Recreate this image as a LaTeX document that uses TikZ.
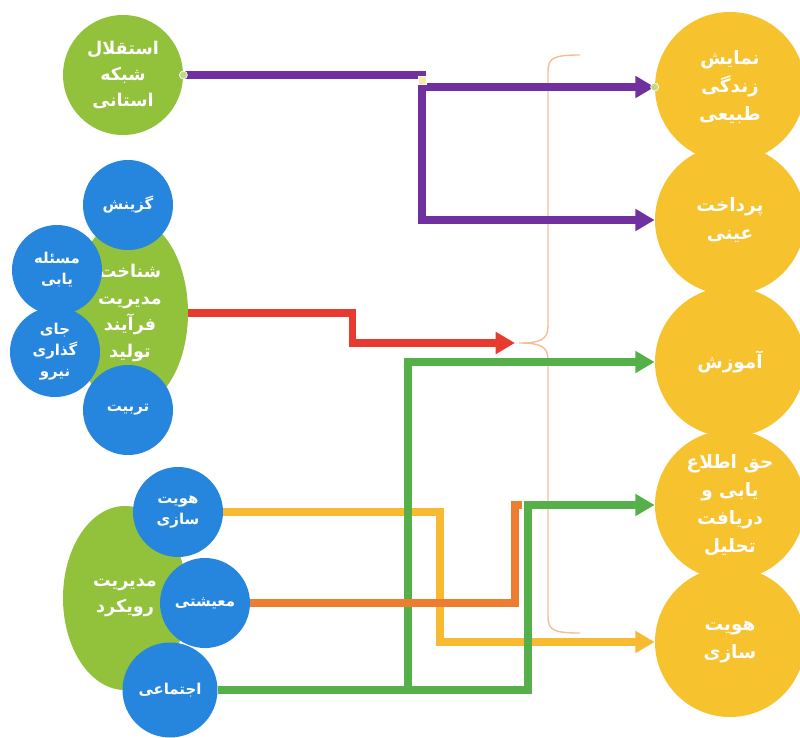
\documentclass[tikz,border=0pt]{standalone}
\usepackage{fontspec}
\newfontfamily\arabicfont[Script=Arabic]{DejaVu Sans}
\TeXXeTstate=1
\usetikzlibrary{arrows.meta,shapes.geometric}
\newcommand{\rtxt}[1]{\beginR #1\endR}
\definecolor{leafgreen}{RGB}{146,193,59}
\definecolor{bubbleblue}{RGB}{38,134,222}
\definecolor{sunyellow}{RGB}{246,194,46}
\definecolor{linepurple}{RGB}{112,48,160}
\definecolor{linered}{RGB}{233,58,48}
\definecolor{linegreen}{RGB}{86,176,74}
\definecolor{lineorange}{RGB}{237,125,49}
\definecolor{lineyellow}{RGB}{248,186,48}
\definecolor{braceorange}{RGB}{246,190,150}
\tikzset{
  treenode/.style = {align=center, inner sep=0pt, text=white},
  % circles and blobs
  crc_Y/.style = {treenode, circle, fill=sunyellow, minimum size=30mm,
                  font=\arabicfont\bfseries\fontsize{10.5pt}{16pt}\selectfont},
  crc_G/.style = {treenode, circle, fill=leafgreen, minimum size=24mm,
                  font=\arabicfont\bfseries\fontsize{10pt}{15pt}\selectfont},
  crc_B/.style = {treenode, circle, fill=bubbleblue, minimum size=18mm,
                  font=\arabicfont\bfseries\fontsize{8.5pt}{12pt}\selectfont},
  ell_G/.style = {treenode, ellipse, fill=leafgreen,
                  font=\arabicfont\bfseries\fontsize{10pt}{15pt}\selectfont},
  % small handles
  hnd_G/.style = {circle, inner sep=0pt, minimum size=1.6mm, fill=leafgreen!60, draw=white, thin},
  hnd_Y/.style = {rectangle, inner sep=0pt, minimum size=1.6mm, fill=sunyellow!40, draw=white, thin},
  % connectors
  ln/.style = {line width=4pt},
  ln_P/.style = {ln, draw=linepurple},
  ln_R/.style = {ln, draw=linered},
  ln_G/.style = {ln, draw=linegreen},
  ln_O/.style = {ln, draw=lineorange},
  ln_Y/.style = {ln, draw=lineyellow}
}
\begin{document}
\begin{tikzpicture}[x=0.2mm, y=-0.2mm,
    ->, >={Triangle[length=11pt,width=12pt]}
    ]
    \useasboundingbox (0,0) rectangle (800,738);
    % Right column - outcome nodes:
    \node [crc_Y] (y1) at (730,87)  {\rtxt{نمایش}\\\rtxt{زندگی}\\\rtxt{طبیعی}};
    \node [crc_Y] (y2) at (730,220) {\rtxt{پرداخت}\\\rtxt{عینی}};
    \node [crc_Y] (y3) at (730,362) {\rtxt{آموزش}};
    \node [crc_Y] (y4) at (730,505) {\rtxt{حق اطلاع}\\\rtxt{یابی و}\\\rtxt{دریافت}\\\rtxt{تحلیل}};
    \node [crc_Y] (y5) at (730,642) {\rtxt{هویت}\\\rtxt{سازی}};
    % Top left node:
    \node [crc_G] (g1) at (123,75) {\rtxt{استقلال}\\\rtxt{شبکه}\\\rtxt{استانی}};
    % Middle group:
    \node [ell_G, minimum width=23.2mm, minimum height=38mm] (m) at (130,313)
          {\rtxt{شناخت}\\\rtxt{مدیریت}\\\rtxt{فرآیند}\\\rtxt{تولید}};
    \node [crc_B] (b1) at (128,205) {\rtxt{گزینش}};
    \node [crc_B] (b2) at (57,270)  {\rtxt{مسئله}\\\rtxt{یابی}};
    \node [crc_B] (b3) at (55,352)  {\rtxt{جای}\\\rtxt{گذاری}\\\rtxt{نیرو}};
    \node [crc_B] (b4) at (128,410) {\rtxt{تربیت}};
    % Bottom group:
    \node [ell_G, minimum width=24.8mm, minimum height=36.8mm] (r) at (125,598)
          {\rtxt{مدیریت}\\\rtxt{رویکرد}};
    \node [crc_B] (hv) at (178,512) {\rtxt{هویت}\\\rtxt{سازی}};
    \node [crc_B] (ms) at (205,603) {\rtxt{معیشتی}};
    \node [crc_B, minimum size=19mm] (ej) at (170,690) {\rtxt{اجتماعی}};

    % Brace:
    \coordinate (bt) at (515,343);
    \draw [-, braceorange, line width=0.8pt]
          (580,55) .. controls (553,55) and (548,58) .. (548,72) -- (548,326)
          .. controls (548,340) and (540,343) .. (519,343)
          .. controls (540,343) and (548,346) .. (548,360) -- (548,616)
          .. controls (548,630) and (553,633) .. (580,633);

    % Purple connectors:
    \coordinate (pj) at (422,75);
    \draw [ln_P] (g1.east) -- (pj) |- (y2.west);
    \draw [ln_P] (pj |- y1.west) -- (y1.west);
    % Red connector:
    \draw [ln_R] (m.east) -- ++(164,0) |- (bt);
    % Yellow connector:
    \draw [ln_Y] (hv.east) -- (440,512) |- (y5.west);
    % Green connectors:
    \coordinate (gj) at (408,690);
    \draw [ln_G] (ej.east) -- (gj) |- (y3.west);
    \draw [ln_G] (gj) -- (528,690) |- (y4.west);
    % Orange connector:
    \coordinate (oe) at (522,505);
    \draw [ln_O, -] (ms.east) -- (515,603) |- (oe);

    % Handles:
    \node [hnd_G] (h1) at (g1.east) {};
    \node [hnd_G] (h2) at (y1.west) {};
    \node [hnd_Y] (h3) at (422,80) {};
\end{tikzpicture}
\end{document}
